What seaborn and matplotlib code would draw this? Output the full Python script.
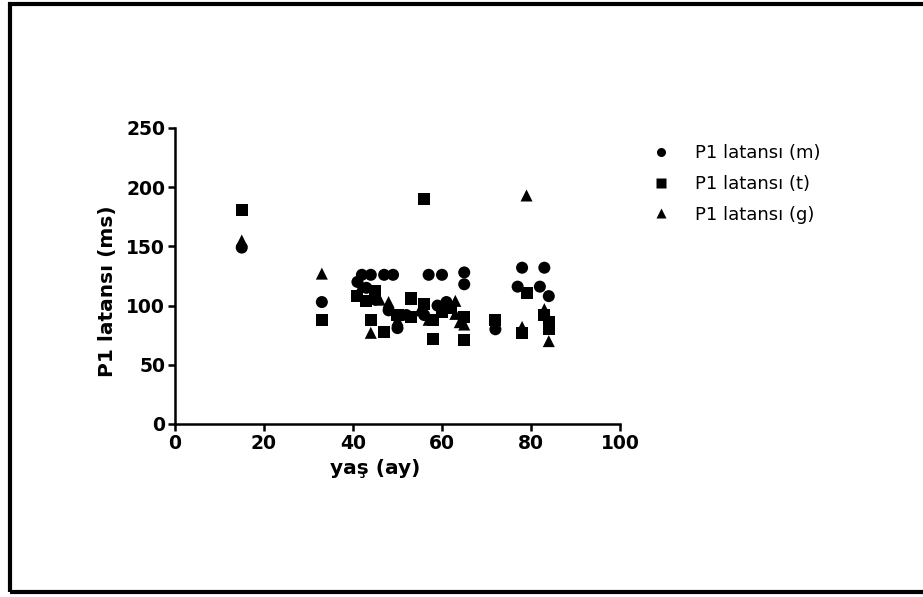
import seaborn as sns
import pandas as pd
import matplotlib.pyplot as plt
from matplotlib.patches import Rectangle

# P1 latansı (m) - circles
m_age = [15, 33, 42, 44, 43, 41, 47, 49, 45, 50, 52, 57, 60, 65, 65, 56, 59, 62, 61, 72, 77, 78, 83, 82, 84, 48]
m_val = [149, 103, 126, 126, 115, 120, 126, 126, 105, 81, 92, 126, 126, 128, 118, 92, 100, 98, 103, 80, 116, 132, 132, 116, 108, 96]

# P1 latansı (t) - squares
t_age = [15, 33, 41, 43, 44, 47, 45, 50, 53, 53, 56, 56, 58, 58, 60, 62, 65, 65, 72, 78, 79, 83, 84, 84]
t_val = [181, 88, 108, 104, 88, 78, 112, 92, 106, 90, 190, 101, 72, 88, 95, 98, 90, 71, 88, 77, 111, 92, 80, 86]

# P1 latansı (g) - triangles
g_age = [15, 33, 42, 44, 46, 48, 50, 55, 57, 60, 63, 64, 65, 78, 79, 84, 63, 83]
g_val = [155, 127, 117, 77, 105, 103, 88, 96, 88, 98, 93, 86, 84, 82, 193, 70, 104, 97]

labels = ["P1 latansı (m)", "P1 latansı (t)", "P1 latansı (g)"]

df = pd.concat([
    pd.DataFrame({"age": m_age, "val": m_val, "grp": labels[0]}),
    pd.DataFrame({"age": t_age, "val": t_val, "grp": labels[1]}),
    pd.DataFrame({"age": g_age, "val": g_val, "grp": labels[2]}),
])

sns.set_style("ticks")
plt.rcParams['font.family'] = ['DejaVu Sans']
plt.rcParams['text.color'] = 'black'
plt.rcParams['axes.labelcolor'] = 'black'

fig = plt.figure(figsize=(9.23, 5.97), dpi=100)
ax = fig.add_axes([0.1896, 0.2898, 0.4821, 0.4958])

markers = {labels[0]: "o", labels[1]: "s", labels[2]: "^"}
sns.scatterplot(data=df, x="age", y="val", style="grp", markers=markers,
                color="black", s=75, edgecolor="none", ax=ax, legend=True)

ax.set_xlim(0, 100)
ax.set_ylim(0, 250)
ax.set_xticks(range(0, 101, 20))
ax.set_yticks(range(0, 251, 50))
for s in ["top", "right"]:
    ax.spines[s].set_visible(False)
for s in ["left", "bottom"]:
    ax.spines[s].set_linewidth(1.8)
    ax.spines[s].set_color("black")
ax.tick_params(width=1.8, length=5, labelsize=13.5, colors="black", pad=2)
for t in ax.get_xticklabels() + ax.get_yticklabels():
    t.set_fontweight("bold")
ax.set_xlabel("yaş (ay)", fontsize=14.5, fontweight="bold")
ax.set_ylabel("P1 latansı (ms)", fontsize=14.5, fontweight="bold")
ax.xaxis.set_label_coords(0.45, -0.117)
ax.yaxis.set_label_coords(-0.13, 0.45)

handles, lbls = ax.get_legend_handles_labels()
leg = ax.legend(handles, lbls, loc="upper left", bbox_to_anchor=(1.015, 1.0),
                frameon=False, fontsize=13, handletextpad=0.9, labelspacing=0.7,
                markerscale=0.75)
for t in leg.get_texts():
    t.set_color("black")

fig.patches.append(Rectangle((0.011, 0.008), 1.0, 0.985, transform=fig.transFigure,
                             fill=False, edgecolor="black", linewidth=3))

fig.savefig("out.png", dpi=100)
